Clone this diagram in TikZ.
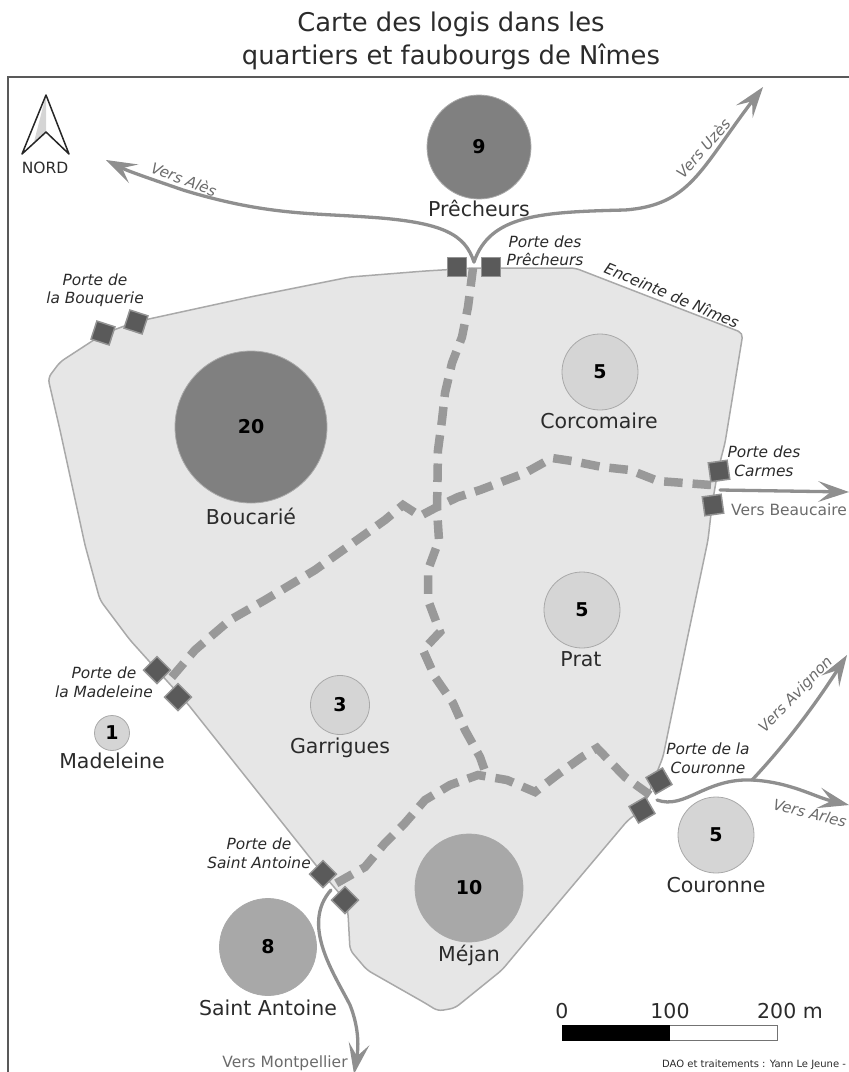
\documentclass[tikz,border=0pt]{standalone}
\usepackage{fontspec}
\setmainfont{DejaVu Sans}
\usetikzlibrary{arrows.meta,calc}
\definecolor{wallc}{HTML}{A9A9A9}
\definecolor{cityc}{HTML}{E6E6E6}
\definecolor{roadc}{HTML}{8F8F8F}
\definecolor{dashc}{HTML}{999999}
\definecolor{gatec}{HTML}{5A5A5A}
\definecolor{lowc}{HTML}{D5D5D5}
\definecolor{midc}{HTML}{A8A8A8}
\definecolor{highc}{HTML}{808080}
\definecolor{txtc}{HTML}{2B2B2B}
\tikzset{
  x=1pt,y=-1pt,
  qcircle/.style={circle,draw=wallc,line width=.8pt,inner sep=0pt,minimum size=#1*2pt},
  qnum/.style={font=\fontsize{19}{19}\selectfont\bfseries,text=black,inner sep=0pt},
  qname/.style={font=\fontsize{20.5}{21}\selectfont,text=txtc,inner sep=0pt},
  gatebox/.style={rectangle,draw=black!42,line width=1.5pt,fill=gatec,minimum size=19pt,inner sep=0pt},
  portel/.style={font=\fontsize{15.4}{18.5}\selectfont\itshape,text=txtc,align=center,inner sep=0pt},
  verslab/.style={font=\fontsize{15}{16}\selectfont\itshape,text=black!58,inner sep=0pt},
  versup/.style={font=\fontsize{15.5}{16}\selectfont,text=black!58,inner sep=0pt},
  road/.style={draw=roadc,line width=3.3pt,line cap=round},
  roadtip/.style={-{Stealth[length=31pt,width=21pt,inset=13pt,line width=0pt]}},
  route/.style={draw=dashc,line width=8.5pt,dash pattern=on 18.5pt off 10pt},
  scalelab/.style={font=\fontsize{20.5}{21}\selectfont,text=txtc,inner sep=0pt}
}
\begin{document}
\begin{tikzpicture}
\useasboundingbox (0,0) rectangle (849,1072);
\clip (0,0) rectangle (849,1072);
% frame
\draw[black!65,line width=1.5pt] (8,1072) -- (8,77) -- (849,77);
% title
\node[font=\fontsize{25.8}{33}\selectfont,text=txtc,align=center,inner sep=0pt] (title) at (451,41) {Carte des logis dans les\\quartiers et faubourgs de Nîmes};
% city wall
\draw[wallc,line width=1.5pt,fill=cityc,line join=round,rounded corners=5pt]
 (48,378) -- (60,362) -- (103,334) -- (135,322) -- (250,297) -- (350,277) -- (425,271) -- (475,268) -- (575,268)
 -- (743,333) -- (725,443) -- (718,470) -- (712,505) -- (708,540) -- (687,640) -- (663,757) -- (642,810)
 -- (628,820) -- (558,903) -- (502,970) -- (455,1008) -- (438,1011) -- (425,1003) -- (367,970) -- (350,950) -- (348,913)
 -- (345,900) -- (323,874) -- (187,703) -- (157,670) -- (130,640) -- (100,600) -- (85,545) -- (60,430) -- cycle;
% dashed routes
\coordinate (nsA) at (473,268);
\coordinate (nsB) at (486,774);
\coordinate (ewA) at (711,485);
\coordinate (ewB) at (166,684);
\coordinate (sA) at (650,795);
\coordinate (sB) at (335,884);
\draw[route] (nsA) -- (468,307) -- (462,337) -- (452,363) -- (445,393) -- (442,420) -- (438,450) -- (437,510) -- (439,540) -- (428,570) -- (428,600) -- (440,632) -- (423,650) -- (435,677) -- (453,703) -- (465,730) -- (480,757) -- (nsB);
\draw[route] (ewA) -- (658,481) -- (630,470) -- (602,467) -- (572,461) -- (552,458) -- (525,473) -- (480,490) -- (458,497) -- (437,507) -- (420,516) -- (403,505) -- (385,520) -- (350,545) -- (315,570) -- (265,600) -- (230,620) -- (195,650) -- (ewB);
\draw[route] (sA) -- (625,777) -- (597,748) -- (582,757) -- (557,775) -- (535,792) -- (507,780) -- (478,775) -- (450,785) -- (425,800) -- (405,823) -- (385,843) -- (365,867) -- (sB);
% gates
\node[gatebox,rotate=-18] (gBa) at (103,333) {};
\node[gatebox,rotate=-18] (gBb) at (136,322) {};
\node[gatebox] (gPa) at (457,267) {};
\node[gatebox] (gPb) at (491,267) {};
\node[gatebox,rotate=8] (gCa) at (719,471) {};
\node[gatebox,rotate=8] (gCb) at (713,505) {};
\node[gatebox,rotate=30] (gKa) at (659,781) {};
\node[gatebox,rotate=30] (gKb) at (642,810) {};
\node[gatebox,rotate=45] (gMa) at (157,670) {};
\node[gatebox,rotate=45] (gMb) at (178,697) {};
\node[gatebox,rotate=45] (gSa) at (323,874) {};
\node[gatebox,rotate=45] (gSb) at (345,900) {};
% roads
\coordinate (rP) at (474,262);
\coordinate (rAl) at (106,160);
\coordinate (rUz) at (763,87);
\coordinate (rBa) at (720,490);
\coordinate (rBe) at (849,492);
\coordinate (rK) at (657,800);
\coordinate (rFork) at (752,780);
\coordinate (rAr) at (849,805);
\coordinate (rAv) at (847,655);
\coordinate (rS) at (331,890);
\coordinate (rMo) at (354,1074);
\draw[road,roadtip] (rP) .. controls (465,235) and (445,222) .. (367,217) .. controls (310,213) and (265,215) .. (183,190) .. controls (160,182) and (130,172) .. (rAl);
\draw[road,roadtip] (rP) .. controls (490,215) and (540,212) .. (625,210) .. controls (690,205) and (700,170) .. (rUz);
\draw[road,roadtip] (rBa) -- (rBe);
\draw[road] (rK) .. controls (685,810) and (705,778) .. (rFork);
\draw[road,roadtip] (rFork) .. controls (790,782) and (815,797) .. (rAr);
\draw[road,roadtip] (rFork) .. controls (785,745) and (815,705) .. (rAv);
\draw[road,roadtip] (rS) .. controls (300,925) and (335,975) .. (350,1005) .. controls (360,1030) and (358,1050) .. (rMo);
% quarters
\node[qcircle=52,fill=highc,qnum] (q9) at (479,147) {9};
\node[qcircle=76,fill=highc,qnum] (q20) at (251,427) {20};
\node[qcircle=38,fill=lowc,qnum] (qC) at (600,372) {5};
\node[qcircle=38,fill=lowc,qnum] (qP) at (582,610) {5};
\node[qcircle=29.5,fill=lowc,qnum] (qG) at (340,705) {3};
\node[qcircle=17.5,fill=lowc,qnum] (qM) at (112,733) {1};
\node[qcircle=54,fill=midc,qnum] (qJ) at (469,888) {10};
\node[qcircle=48.5,fill=midc,qnum] (qS) at (268,947) {8};
\node[qcircle=38,fill=lowc,qnum] (qK) at (716,835) {5};
\node[qname] (l9) at (479,208) {Prêcheurs};
\node[qname] (l20) at (251,516) {Boucarié};
\node[qname] (lC) at (599,421) {Corcomaire};
\node[qname] (lP) at (581,659) {Prat};
\node[qname] (lG) at (340,748) {Garrigues};
\node[qname] (lM) at (112,761) {Madeleine};
\node[qname] (lJ) at (469,955) {Méjan};
\node[qname] (lS) at (268,1008) {Saint Antoine};
\node[qname] (lK) at (716,885) {Couronne};
% gate labels
\node[portel] (pB) at (95,290) {Porte de\\la Bouquerie};
\node[portel] (pP) at (545,251) {Porte des\\Prêcheurs};
\node[portel] (pC) at (764,461) {Porte des\\Carmes};
\node[portel] (pK) at (708,758) {Porte de la\\Couronne};
\node[portel] (pM) at (104,682) {Porte de\\la Madeleine};
\node[portel] (pS) at (259,853) {Porte de\\Saint Antoine};
\node[portel,rotate=-23] (pW) at (672,295) {Enceinte de Nîmes};
% road labels
\node[verslab,rotate=-21] (vAl) at (184,179) {Vers Alès};
\node[verslab,rotate=49] (vUz) at (703,148) {Vers Uzès};
\node[verslab,rotate=46] (vAv) at (796,695) {Vers Avignon};
\node[verslab,rotate=-14] (vAr) at (810,813) {Vers Arles};
\node[versup,anchor=west] (vBe) at (731,510) {Vers Beaucaire};
\node[versup] (vMo) at (285,1063) {Vers Montpellier};
% north arrow
\coordinate (nA) at (46,95);
\coordinate (nL) at (22,154);
\coordinate (nN) at (46,132);
\coordinate (nR) at (69,154);
\fill[lowc] (nA) -- (nN) -- (34,142) -- cycle;
\draw[black!85,line width=1.5pt,line join=round] (nA) -- (nL) -- (nN) -- (nR) -- cycle;
\node[font=\fontsize{15.5}{16}\selectfont,text=txtc,inner sep=0pt] (nord) at (45,168) {NORD};
% scale bar
\node[draw=black!55,line width=1pt,fill=white,minimum width=215pt,minimum height=15pt,inner sep=0pt,anchor=west] (sbar) at (562,1032.5) {};
\fill[black] (sbar.south west) rectangle (sbar.north);
\node[scalelab] (s0) at (562,1011) {0};
\node[scalelab] (s1) at (670,1011) {100};
\node[scalelab] (s2) at (790,1011) {200 m};
\node[font=\fontsize{10}{11}\selectfont,text=txtc,inner sep=0pt,anchor=west] (dao) at (662,1065) {DAO et traitements : Yann Le Jeune -};
\end{tikzpicture}
\end{document}
